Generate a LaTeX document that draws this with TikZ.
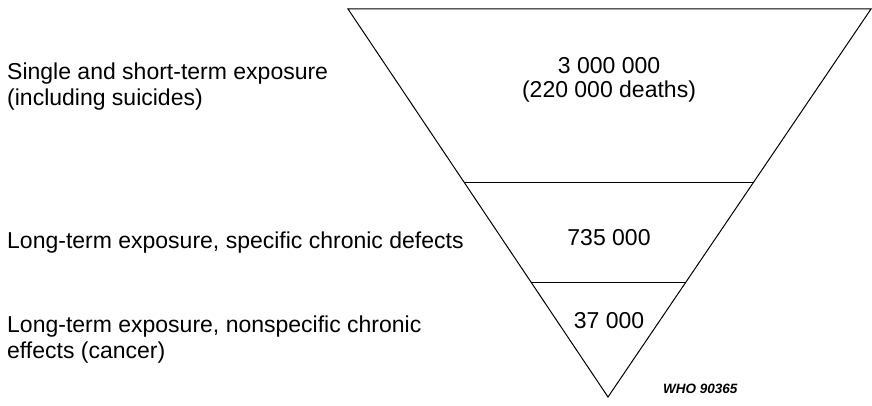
\documentclass[tikz,border=0pt]{standalone}
\usepackage{fontspec}
\setmainfont{Liberation Sans}
\usetikzlibrary{calc,positioning}
\tikzset{
  tierlabel/.style={anchor=base west, align=left, inner sep=0pt,
    font=\fontsize{23}{26}\selectfont},
  tiercount/.style={anchor=base, align=center, inner sep=0pt,
    font=\fontsize{23}{24}\selectfont},
  funnel/.style={line width=1pt, black, line join=miter},
  tierline/.style={line width=1.2pt, black},
  figtag/.style={anchor=base west, inner sep=0pt,
    font=\fontsize{13.5}{16}\selectfont\bfseries\itshape}
}

\begin{document}
\begin{tikzpicture}[x=1pt, y=-1pt]
  \useasboundingbox (0,0) rectangle (872,406);
  % inverted triangle
  \coordinate (tl) at (348,9);
  \coordinate (tr) at (871,9);
  \coordinate (tip) at (608,397);
  \coordinate (l1) at ($(tl)!0.448!(tip)$);
  \coordinate (r1) at ($(tr)!0.448!(tip)$);
  \coordinate (l2) at ($(tl)!0.704!(tip)$);
  \coordinate (r2) at ($(tr)!0.704!(tip)$);
  \draw[funnel] (tl) -- (tr) -- (tip) -- cycle;
  \draw[tierline] (l1) -- (r1);
  \draw[tierline] (l2) -- (r2);
  % labels left (base = last line)
  \node[tierlabel] (single) at (7,106) {Single and short-term exposure\\(including suicides)};
  \node[tierlabel] (specific) at (7,248) {Long-term exposure, specific chronic defects};
  \node[tierlabel] (nonspec) at (7,358) {Long-term exposure, nonspecific chronic\\effects (cancer)};
  % counts
  \node[tiercount] (acute) at (609,98) {3 000 000\\(220 000 deaths)};
  \node[tiercount] (chronic) at (609,245) {735 000};
  \node[tiercount] (cancer) at (609,328) {37 000};
  \node[figtag] (who) at (663,393) {WHO 90365};
\end{tikzpicture}
\end{document}
